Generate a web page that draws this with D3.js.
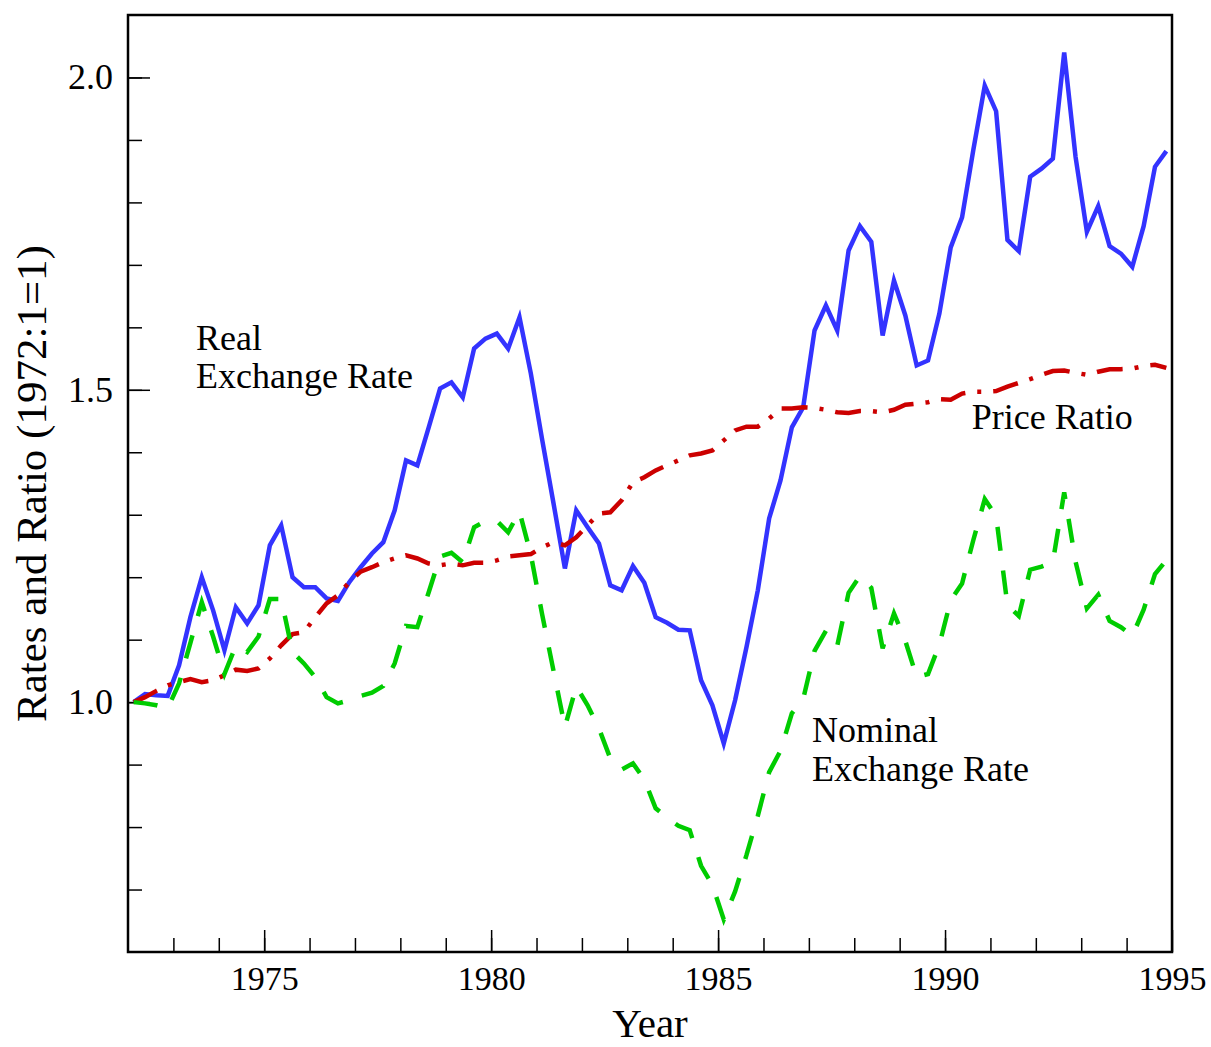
<!DOCTYPE html>
<html>
<head>
<meta charset="utf-8">
<script src="https://cdn.jsdelivr.net/npm/d3@7"></script>
<style>
body { margin: 0; background: #fff; }
text { font-family: "Liberation Serif", "Times New Roman", serif; fill: #000; }
</style>
</head>
<body>
<div id="chart"></div>
<script>
'use strict';

// quarterly series, 1972:1 .. 1994:4 (1972:1 = 1)
const startYear = 1972
const realRate = [
  1.000, 1.013, 1.011, 1.010, 1.059, 1.136, 1.200, 1.147, 1.083, 1.152, 1.126, 1.155,
  1.251, 1.283, 1.200, 1.184, 1.184, 1.166, 1.162, 1.192, 1.216, 1.238, 1.256, 1.307,
  1.387, 1.379, 1.440, 1.502, 1.512, 1.488, 1.566, 1.582, 1.590, 1.566, 1.616, 1.526,
  1.420, 1.318, 1.214, 1.307, 1.280, 1.254, 1.187, 1.179, 1.218, 1.191, 1.136, 1.127,
  1.116, 1.115, 1.035, 0.995, 0.934, 1.003, 1.088, 1.179, 1.294, 1.355, 1.440, 1.472,
  1.595, 1.635, 1.595, 1.723, 1.762, 1.737, 1.587, 1.675, 1.619, 1.539, 1.547, 1.622,
  1.728, 1.776, 1.885, 1.987, 1.946, 1.740, 1.722, 1.841, 1.854, 1.870, 2.040, 1.873,
  1.753, 1.794, 1.730, 1.718, 1.697, 1.762, 1.857, 1.882
]
const priceRatio = [
  1.000, 1.008, 1.018, 1.027, 1.032, 1.037, 1.032, 1.035, 1.043, 1.052, 1.050, 1.054,
  1.070, 1.091, 1.109, 1.112, 1.136, 1.158, 1.171, 1.192, 1.209, 1.216, 1.224, 1.230,
  1.235, 1.230, 1.222, 1.219, 1.222, 1.219, 1.223, 1.223, 1.227, 1.233, 1.235, 1.237,
  1.248, 1.256, 1.251, 1.264, 1.283, 1.302, 1.304, 1.323, 1.352, 1.360, 1.371, 1.379,
  1.387, 1.395, 1.398, 1.403, 1.419, 1.435, 1.441, 1.441, 1.454, 1.470, 1.470, 1.472,
  1.471, 1.468, 1.464, 1.463, 1.466, 1.466, 1.464, 1.468, 1.476, 1.478, 1.480, 1.485,
  1.484, 1.494, 1.497, 1.497, 1.498, 1.505, 1.511, 1.517, 1.524, 1.530, 1.531, 1.527,
  1.524, 1.529, 1.533, 1.533, 1.534, 1.538, 1.540, 1.535
]
const nominalRate = [
  1.000, 0.998, 0.995, 0.990, 1.030, 1.095, 1.160, 1.105, 1.045, 1.090, 1.080, 1.105,
  1.165, 1.165, 1.080, 1.062, 1.040, 1.008, 0.998, 1.003, 1.010, 1.015, 1.026, 1.062,
  1.122, 1.120, 1.176, 1.233, 1.239, 1.224, 1.280, 1.290, 1.290, 1.272, 1.305, 1.236,
  1.140, 1.050, 0.960, 1.025, 0.995, 0.958, 0.910, 0.892, 0.902, 0.876, 0.830, 0.815,
  0.802, 0.795, 0.738, 0.707, 0.652, 0.697, 0.755, 0.818, 0.888, 0.922, 0.982, 1.005,
  1.082, 1.114, 1.090, 1.175, 1.202, 1.183, 1.086, 1.142, 1.098, 1.040, 1.045, 1.092,
  1.163, 1.190, 1.260, 1.325, 1.298, 1.155, 1.138, 1.212, 1.217, 1.224, 1.336, 1.225,
  1.150, 1.172, 1.130, 1.120, 1.106, 1.148, 1.205, 1.227
]
const xTicks = [1975, 1980, 1985, 1990, 1995]
const yTicks = [1.0, 1.5, 2.0]

const W = 1211, H = 1047
const m = [15, 39, 95, 128] // top right bottom left
const w = W - m[1] - m[3]
const h = H - m[0] - m[2]

const x = d3.scaleLinear().domain([1972, 1995]).range([0, w])
const y = d3.scaleLinear().domain([0.6, 2.1]).range([h, 0])
const qx = i => x(startYear + (i + 0.5) / 4)

const svg = d3.select('#chart').append('svg')
  .attr('width', W).attr('height', H)
const g = svg.append('g').attr('transform', 'translate(' + m[3] + ',' + m[0] + ')')

// ticks point inward
const minorX = d3.axisBottom(x).tickValues(d3.range(1973, 1995)).tickSize(-14).tickFormat('')
g.append('g').attr('transform', 'translate(0,' + h + ')').call(minorX)
const majorX = d3.axisBottom(x).tickValues(xTicks).tickSizeInner(-22).tickSizeOuter(0).tickPadding(14)
  .tickFormat(d3.format('d'))
g.append('g').attr('class', 'xlab').attr('transform', 'translate(0,' + h + ')').call(majorX)

const minorY = d3.axisLeft(y).tickValues(d3.range(7, 21).map(v => v / 10)).tickSize(-14).tickFormat('')
g.append('g').call(minorY)
const majorY = d3.axisLeft(y).tickValues(yTicks).tickSizeInner(-22).tickSizeOuter(0).tickPadding(15)
  .tickFormat(d3.format('.1f'))
g.append('g').attr('class', 'ylab').call(majorY)

g.selectAll('.domain').remove()
g.selectAll('.tick line').attr('stroke', '#000').attr('stroke-width', 1.5)
g.selectAll('.tick text').attr('font-family', '"Liberation Serif", serif').attr('fill', '#000')
g.selectAll('.xlab .tick text').attr('font-size', 34)
g.selectAll('.ylab .tick text').attr('font-size', 36)

g.append('rect').attr('width', w).attr('height', h)
  .attr('fill', 'none').attr('stroke', '#000').attr('stroke-width', 2.5)

const line = d3.line().x((d, i) => qx(i)).y(d => y(d))

g.append('path').datum(realRate).attr('d', line)
  .attr('fill', 'none').attr('stroke', '#3333ff').attr('stroke-width', 4.5)
g.append('path').datum(priceRatio).attr('d', line)
  .attr('fill', 'none').attr('stroke', '#cc0000').attr('stroke-width', 4.5)
  .attr('stroke-dasharray', '26,12,4,12')
g.append('path').datum(nominalRate).attr('d', line)
  .attr('fill', 'none').attr('stroke', '#00cc00').attr('stroke-width', 4.5)
  .attr('stroke-dasharray', '24,20')

// series labels
const notes = [
  ['Real', 1973.5, 1.564],
  ['Exchange Rate', 1973.5, 1.503],
  ['Price Ratio', 1990.59, 1.438],
  ['Nominal', 1987.07, 0.936],
  ['Exchange Rate', 1987.07, 0.874],
]
g.selectAll('.note').data(notes).enter().append('text')
  .attr('class', 'note')
  .attr('x', d => x(d[1])).attr('y', d => y(d[2]))
  .attr('font-size', 36)
  .text(d => d[0])

svg.append('text')
  .attr('x', m[3] + w / 2).attr('y', 1037)
  .attr('text-anchor', 'middle').attr('font-size', 41)
  .text('Year')

svg.append('text')
  .attr('transform', 'translate(46,' + (m[0] + h / 2) + ') rotate(-90)')
  .attr('text-anchor', 'middle').attr('font-size', 43)
  .text('Rates and Ratio (1972:1=1)')
</script>
</body>
</html>
